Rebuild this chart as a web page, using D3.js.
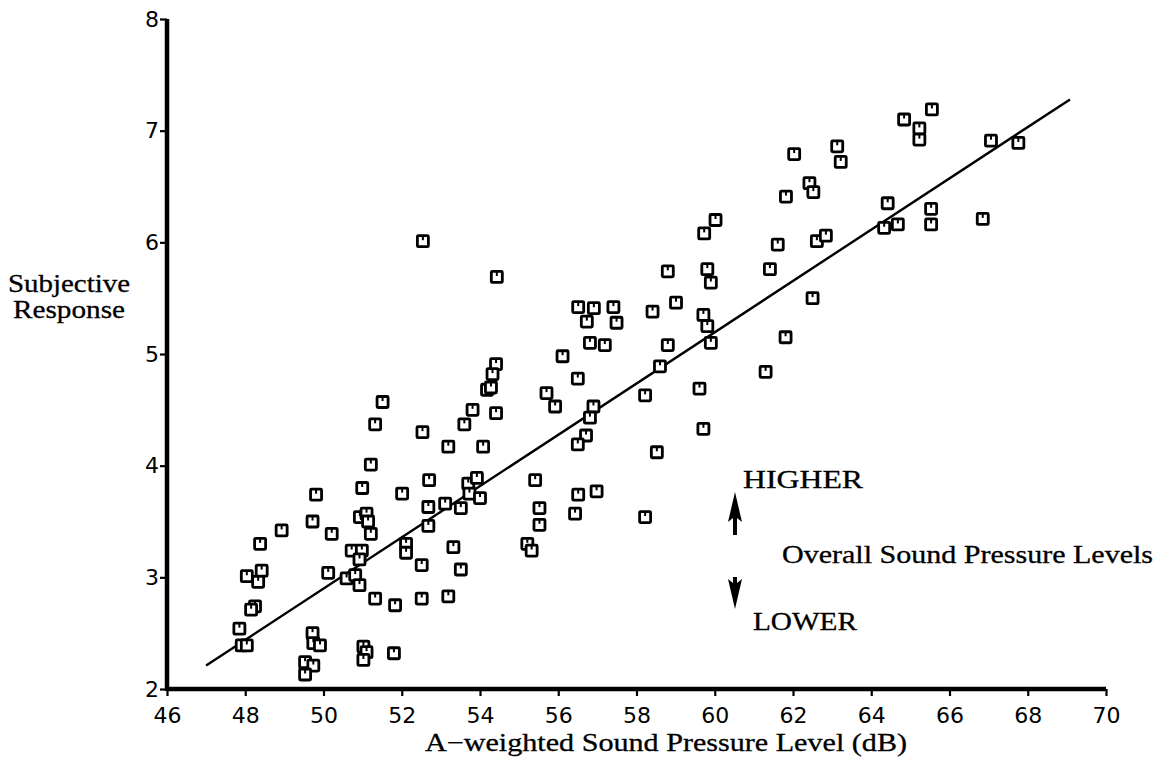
<!DOCTYPE html>
<html>
<head>
<meta charset="utf-8">
<script src="https://cdnjs.cloudflare.com/ajax/libs/d3/7.8.5/d3.min.js"></script>
<style>
body { margin: 0; background: #fff; }
.tick text { font-family: "DejaVu Sans", sans-serif; font-size: 22px; fill: #000; }
.label { font-family: "Liberation Serif", "Times New Roman", serif; font-size: 25px; fill: #000; stroke: #000; stroke-width: 0.3; }
</style>
</head>
<body>
<div id="chart"></div>
<script>
var w = 1159;
var h = 777;

// sound pressure level (dB) and subjective response for each sample
var spl = [51.51, 51.32, 52.53, 53.81, 53.60, 54.18, 54.28, 53.19, 54.08, 51.21,
	52.70, 50.99, 52.01, 49.81, 53.70, 53.92, 53.73, 54.00, 52.68, 53.11,
	53.51, 52.68, 50.93, 51.10, 51.14, 49.72, 48.93, 50.21, 51.21, 48.38,
	52.11, 52.11, 53.32, 50.72, 50.98, 50.92, 52.51, 53.51, 48.04, 48.42,
	48.33, 50.12, 50.59, 50.81, 50.92, 51.32, 51.83, 52.51, 53.19, 48.25,
	48.15, 47.85, 47.91, 48.04, 49.72, 49.74, 49.91, 49.53, 49.74, 49.53,
	51.02, 51.10, 51.02, 51.80, 55.70, 55.92, 54.41, 56.90, 56.81, 56.71,
	56.50, 58.22, 59.61, 59.71, 58.52, 55.41, 56.51, 56.98, 55.52, 55.52,
	56.43, 58.22, 55.21, 55.32, 52.54, 54.43, 56.51, 56.91, 57.41, 56.73,
	57.49, 56.81, 57.19, 56.11, 56.50, 54.41, 54.32, 62.03, 63.13, 63.22,
	62.42, 62.52, 61.82, 64.42, 60.02, 59.73, 61.61, 62.61, 62.84, 64.33,
	64.68, 58.80, 59.81, 59.90, 61.41, 59.01, 58.41, 59.71, 59.81, 59.90,
	58.80, 58.60, 62.50, 61.81, 61.30, 65.55, 64.84, 65.23, 65.23, 67.06,
	67.76, 65.53, 65.53, 66.85];
var response = [4.57, 4.37, 4.30, 4.50, 4.37, 4.68, 4.70, 4.17, 4.17, 4.01,
	3.87, 3.80, 3.75, 3.74, 3.84, 3.89, 3.75, 3.71, 3.63, 3.66,
	3.62, 3.46, 3.54, 3.57, 3.50, 3.50, 3.42, 3.39, 3.39, 3.30,
	3.30, 3.22, 3.27, 3.24, 3.24, 3.16, 3.11, 3.07, 3.01, 3.06,
	2.96, 3.04, 2.99, 3.02, 2.93, 2.81, 2.75, 2.81, 2.83, 2.74,
	2.71, 2.54, 2.39, 2.39, 2.50, 2.41, 2.39, 2.24, 2.21, 2.13,
	2.38, 2.33, 2.26, 2.32, 4.65, 4.53, 4.47, 4.53, 4.43, 4.27,
	4.19, 4.63, 4.69, 4.33, 4.12, 3.87, 3.74, 3.77, 3.62, 3.47,
	3.57, 3.54, 3.30, 3.24, 6.01, 5.69, 5.42, 5.41, 5.42, 5.29,
	5.28, 5.10, 5.08, 4.98, 4.78, 4.91, 4.82, 6.79, 6.86, 6.72,
	6.53, 6.45, 6.41, 6.35, 6.20, 6.08, 5.98, 6.01, 6.06, 6.13,
	6.16, 5.74, 5.76, 5.64, 5.76, 5.46, 5.38, 5.35, 5.25, 5.10,
	5.08, 4.89, 5.50, 5.15, 4.84, 7.19, 7.10, 7.02, 6.92, 6.91,
	6.89, 6.30, 6.16, 6.21];

// fitted line end points
var fitX = [47.0, 69.08];
var fitY = [2.21, 7.28];

var xTicks = [46, 48, 50, 52, 54, 56, 58, 60, 62, 64, 66, 68, 70];
var yTicks = [2, 3, 4, 5, 6, 7, 8];

var svg = d3.select("#chart").append("svg")
	.attr("width", w)
	.attr("height", h);

var x = d3.scaleLinear().domain([46, 70]).range([167, 1106]);
var y = d3.scaleLinear().domain([2, 8]).range([689, 19]);

//axes
var xAxis = svg.append("g")
	.attr("transform", "translate(0,689)")
	.call(d3.axisBottom(x).tickValues(xTicks).tickFormat(d3.format("d"))
		.tickSizeInner(7).tickSizeOuter(0).tickPadding(11));

var yAxis = svg.append("g")
	.attr("transform", "translate(167,0)")
	.call(d3.axisLeft(y).tickValues(yTicks).tickFormat(d3.format("d"))
		.tickSizeInner(7).tickSizeOuter(0).tickPadding(1));

svg.selectAll(".tick line").style("stroke", "#000").style("stroke-width", "2.2px");

// heavy axis rules like the original print
svg.append("line")
	.attr("x1", x(46)).attr("x2", x(70))
	.attr("y1", y(2)).attr("y2", y(2))
	.attr("stroke", "#000").attr("stroke-width", 4.5);
svg.append("line")
	.attr("x1", x(46)).attr("x2", x(46))
	.attr("y1", y(2) + 2).attr("y2", y(8))
	.attr("stroke", "#000").attr("stroke-width", 4.5);

//fit line
var fit = fitX.map(function(d, i) { return [d, fitY[i]]; });
svg.append("path")
	.datum(fit)
	.attr("fill", "none")
	.attr("stroke", "#000")
	.attr("stroke-width", 2.4)
	.attr("d", d3.line().x(function(d) { return x(d[0]); }).y(function(d) { return y(d[1]); }));

//points
var pts = spl.map(function(d, i) { return [d, response[i]]; });
var marks = svg.selectAll("g.pt")
	.data(pts)
	.enter()
	.append("g")
	.attr("class", "pt")
	.attr("transform", function(d) { return "translate(" + x(d[0]) + "," + y(d[1]) + ")"; });

marks.append("rect")
	.attr("x", -5.5)
	.attr("y", -5.5)
	.attr("width", 11)
	.attr("height", 11)
	.attr("rx", 1)
	.attr("fill", "#fff")
	.attr("stroke", "#000")
	.attr("stroke-width", 2.8);

marks.append("line")
	.attr("x1", 0)
	.attr("y1", -5)
	.attr("x2", 0)
	.attr("y2", -1)
	.attr("stroke", "#000")
	.attr("stroke-width", 2);

//labels
function label(txt, lx, ly, len) {
	svg.append("text")
		.attr("class", "label")
		.attr("x", lx)
		.attr("y", ly)
		.attr("textLength", len)
		.attr("lengthAdjust", "spacingAndGlyphs")
		.text(txt);
}

label("A\u2212weighted Sound Pressure Level (dB)", 425, 751, 482);
label("Subjective", 8, 292, 122);
label("Response", 13, 318, 112);
label("HIGHER", 743, 488, 120);
label("Overall Sound Pressure Levels", 782, 563, 371);
label("LOWER", 753, 630, 104);

//arrows
svg.append("path")
	.attr("d", "M735,492 L742,522 L737,518 L737,535 L733,535 L733,518 L728,522 Z")
	.attr("fill", "#000");

svg.append("path")
	.attr("d", "M735,609 L742,579 L737,583 L737,577 L733,577 L733,583 L728,579 Z")
	.attr("fill", "#000");
</script>
</body>
</html>
